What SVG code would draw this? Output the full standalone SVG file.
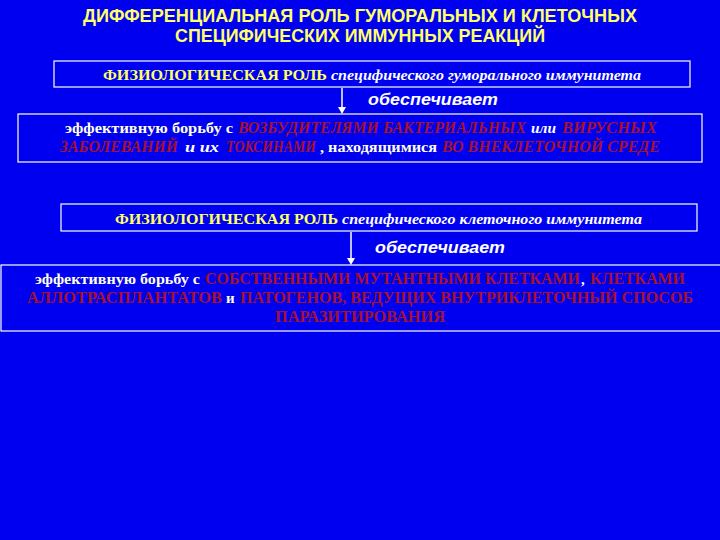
<svg xmlns="http://www.w3.org/2000/svg" width="720" height="540" viewBox="0 0 720 540">
<style>
.bg{fill:#0000f0}
.box{fill:#0000f0;stroke:#ffffff;stroke-width:1.2}
.title{font-family:"Liberation Sans",Arial,sans-serif;font-weight:bold;font-size:18px;fill:#ffff66}
.ylw{font-family:"Liberation Serif","Times New Roman",serif;font-weight:bold;font-size:15px;fill:#ffff66}
.wit{font-family:"Liberation Serif","Times New Roman",serif;font-weight:bold;font-style:italic;font-size:15px;fill:#ffffff}
.wht{font-family:"Liberation Serif","Times New Roman",serif;font-weight:bold;font-size:15px;fill:#ffffe8}
.red{font-family:"Liberation Serif","Times New Roman",serif;font-weight:bold;font-size:16px;fill:#a8102e}
.redi{font-family:"Liberation Serif","Times New Roman",serif;font-weight:bold;font-style:italic;font-size:16px;fill:#a8102e}
.obes{font-family:"Liberation Sans",Arial,sans-serif;font-weight:bold;font-style:italic;font-size:17px;fill:#ffffff}
.conn{stroke:#ffffff;stroke-width:1.5;fill:none}
.head{fill:#ffffff}
</style>
<rect class="bg" x="0" y="0" width="720" height="540"/>

<g id="title">
<text class="title" x="83" y="22" textLength="554" lengthAdjust="spacingAndGlyphs">ДИФФЕРЕНЦИАЛЬНАЯ РОЛЬ ГУМОРАЛЬНЫХ И КЛЕТОЧНЫХ</text>
<text class="title" x="175" y="42" textLength="370" lengthAdjust="spacingAndGlyphs">СПЕЦИФИЧЕСКИХ ИММУННЫХ РЕАКЦИЙ</text>
</g>

<g id="connectors">
<line class="conn" x1="342" y1="88" x2="342" y2="109"/>
<path class="head" d="M338,107 L346,107 L342,114 Z"/>
<line class="conn" x1="351" y1="232" x2="351" y2="260"/>
<path class="head" d="M347,258 L355,258 L351,265 Z"/>
<text class="obes" x="368" y="105" textLength="130" lengthAdjust="spacingAndGlyphs">обеспечивает</text>
<text class="obes" x="375" y="253" textLength="130" lengthAdjust="spacingAndGlyphs">обеспечивает</text>
</g>

<g id="humoral-role">
<rect class="box" x="54" y="61" width="636" height="26"/>
<text class="ylw" x="103" y="80" textLength="224" lengthAdjust="spacingAndGlyphs">ФИЗИОЛОГИЧЕСКАЯ РОЛЬ</text>
<text class="wit" x="331" y="80" textLength="310" lengthAdjust="spacingAndGlyphs">специфического гуморального иммунитета</text>
</g>

<g id="humoral-effect">
<rect class="box" x="18" y="114" width="684" height="48"/>
<text class="wht" x="65" y="133" textLength="168" lengthAdjust="spacingAndGlyphs">эффективную борьбу с</text>
<text class="redi" x="238" y="133" textLength="288" lengthAdjust="spacingAndGlyphs">ВОЗБУДИТЕЛЯМИ БАКТЕРИАЛЬНЫХ</text>
<text class="wit" x="531" y="133" textLength="25" lengthAdjust="spacingAndGlyphs">или</text>
<text class="redi" x="562" y="133" textLength="95" lengthAdjust="spacingAndGlyphs">ВИРУСНЫХ</text>
<text class="redi" x="60" y="152" textLength="118" lengthAdjust="spacingAndGlyphs">ЗАБОЛЕВАНИЙ</text>
<text class="wit" x="185" y="152" textLength="34" lengthAdjust="spacingAndGlyphs">и их</text>
<text class="redi" x="226" y="152" textLength="90" lengthAdjust="spacingAndGlyphs">ТОКСИНАМИ</text>
<text class="wht" x="320" y="152" textLength="117" lengthAdjust="spacingAndGlyphs">, находящимися</text>
<text class="redi" x="442" y="152" textLength="218" lengthAdjust="spacingAndGlyphs">ВО ВНЕКЛЕТОЧНОЙ СРЕДЕ</text>
</g>

<g id="cellular-role">
<rect class="box" x="61" y="204" width="636" height="27"/>
<text class="ylw" x="115" y="224" textLength="223" lengthAdjust="spacingAndGlyphs">ФИЗИОЛОГИЧЕСКАЯ РОЛЬ</text>
<text class="wit" x="342" y="224" textLength="300" lengthAdjust="spacingAndGlyphs">специфического клеточного иммунитета</text>
</g>

<g id="cellular-effect">
<rect class="box" x="1" y="265" width="730" height="66"/>
<text class="wht" x="35" y="284" textLength="165" lengthAdjust="spacingAndGlyphs">эффективную борьбу с</text>
<text class="red" x="205" y="284" textLength="375" lengthAdjust="spacingAndGlyphs">СОБСТВЕННЫМИ МУТАНТНЫМИ КЛЕТКАМИ</text>
<text class="wht" x="581" y="284">,</text>
<text class="red" x="590" y="284" textLength="95" lengthAdjust="spacingAndGlyphs">КЛЕТКАМИ</text>
<text class="red" x="27" y="303" textLength="195" lengthAdjust="spacingAndGlyphs">АЛЛОТРАСПЛАНТАТОВ</text>
<text class="wht" x="226" y="303">и</text>
<text class="red" x="240" y="303" textLength="453" lengthAdjust="spacingAndGlyphs">ПАТОГЕНОВ, ВЕДУЩИХ ВНУТРИКЛЕТОЧНЫЙ СПОСОБ</text>
<text class="red" x="275" y="322" textLength="170" lengthAdjust="spacingAndGlyphs">ПАРАЗИТИРОВАНИЯ</text>
</g>
</svg>
